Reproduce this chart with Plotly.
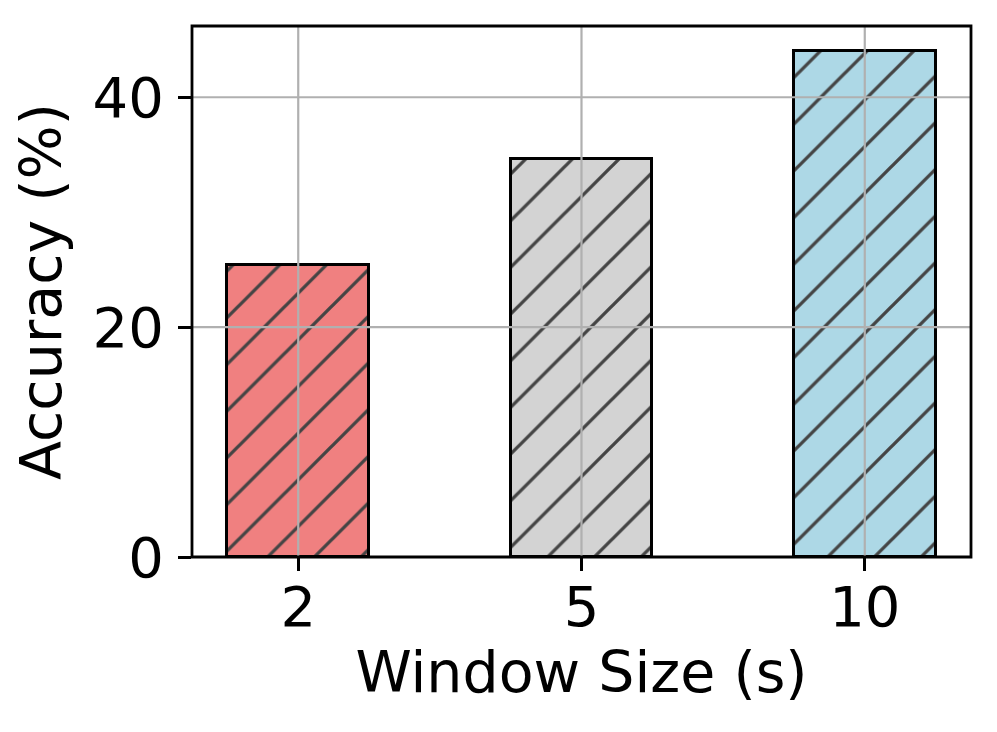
import plotly.graph_objects as go

categories = ["2", "5", "10"]
accuracy = [25.4, 34.6, 44.0]
bar_colors = ["#F08080", "#D3D3D3", "#ADD8E6"]
y_ticks = [0, 20, 40]

FONT = "DejaVu Sans"

fig = go.Figure()
fig.add_trace(go.Bar(
    x=categories,
    y=accuracy,
    width=0.5,
    marker=dict(
        color=bar_colors,
        line=dict(color="black", width=3),
        pattern=dict(shape="/", fgcolor="#000000",
                     size=33, solidity=0.1, fillmode="overlay", fgopacity=1),
    ),
    showlegend=False,
))

shapes = []
for i, _ in enumerate(categories):
    shapes.append(dict(type="line", xref="x", yref="paper", x0=i, x1=i, y0=0, y1=1,
                       line=dict(color="#b0b0b0", width=2.2), layer="above"))
for v in y_ticks[1:]:
    shapes.append(dict(type="line", xref="paper", yref="y", x0=0, x1=1, y0=v, y1=v,
                       line=dict(color="#b0b0b0", width=2.2), layer="above"))
shapes.append(dict(type="rect", xref="paper", yref="paper", x0=0, x1=1, y0=0, y1=1,
                   line=dict(color="black", width=2.8), layer="above"))

fig.update_layout(
    width=997, height=732,
    margin=dict(l=184, r=34, t=18, b=183),
    plot_bgcolor="white", paper_bgcolor="white",
    font=dict(family=FONT, size=56, color="black"),
    shapes=shapes,
    bargap=0,
    xaxis=dict(
        type="category",
        range=[-0.375, 2.375],
        showgrid=False,
        ticks="outside", ticklen=13, tickwidth=2.8, tickcolor="black",
        showline=False,
        tickfont=dict(size=56, family=FONT),
        ticklabelstandoff=-12,
        title=dict(text="Window Size (s)", font=dict(size=57, family=FONT), standoff=13),
    ),
    yaxis=dict(
        range=[0, 46.2],
        tickvals=y_ticks,
        showgrid=False,
        zeroline=False,
        ticks="outside", ticklen=13, tickwidth=2.8, tickcolor="black",
        showline=False,
        tickfont=dict(size=56, family=FONT),
        ticklabelstandoff=3,
        title=dict(text="Accuracy (%)", font=dict(size=57, family=FONT), standoff=16),
    ),
)

fig.write_html("out.html")
